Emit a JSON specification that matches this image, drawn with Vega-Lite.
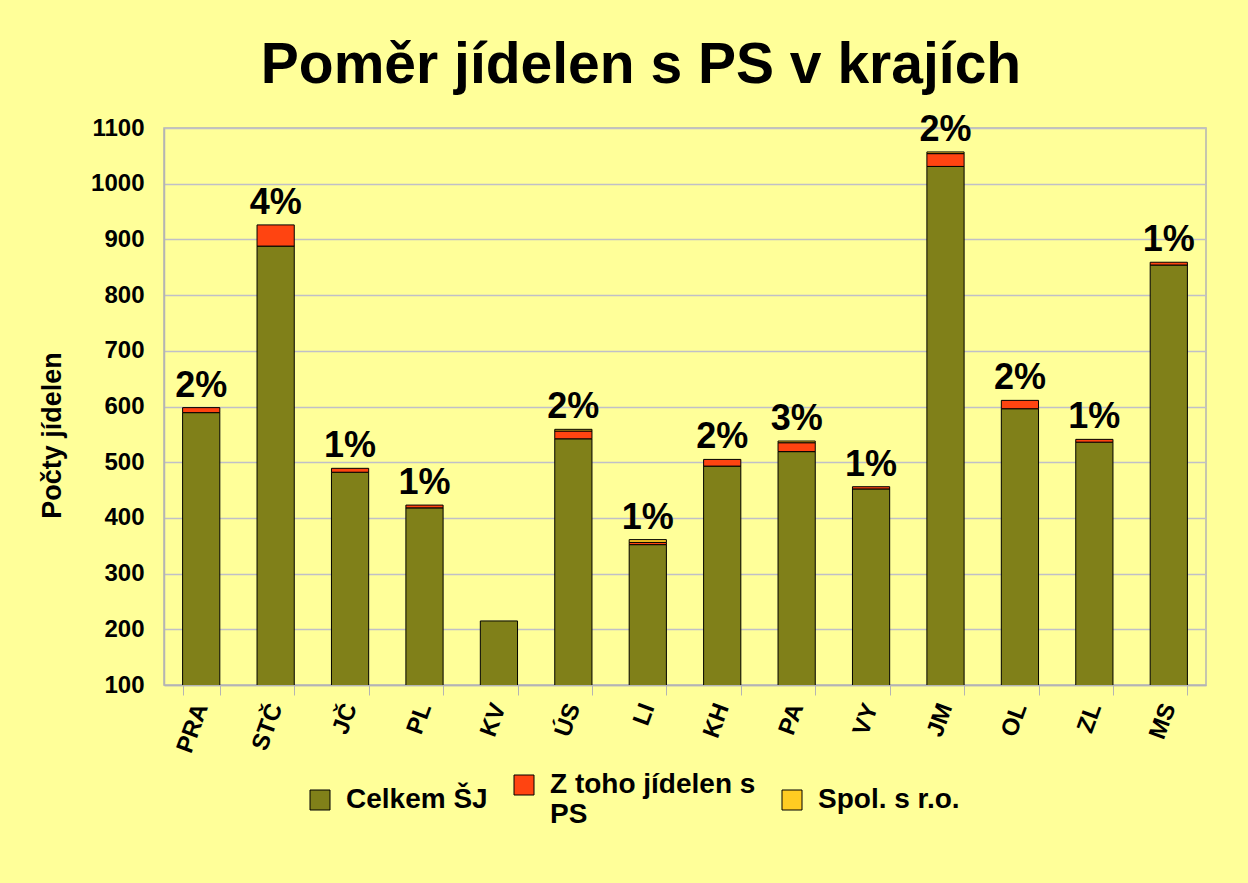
{
  "$schema": "https://vega.github.io/schema/vega-lite/v6.json",
  "autosize": "none",
  "width": 1042,
  "height": 557,
  "padding": {"left": 164, "top": 128, "right": 42, "bottom": 198},
  "background": "#FFFF99",
  "title": {
    "text": "Poměr jídelen s PS v krajích",
    "font": "Liberation Sans",
    "fontSize": 57,
    "fontWeight": "bold",
    "color": "#000000",
    "anchor": "middle",
    "baseline": "alphabetic",
    "dx": -44,
    "dy": 50,
    "offset": 22
  },
  "config": {
    "view": {"stroke": "#B4B4B4", "strokeWidth": 1.5},
    "font": "Liberation Sans"
  },
  "datasets": {
    "bars": [
      {"kraj": "PRA", "rada": "Celkem ŠJ", "k": 1, "pocet": 589},
      {"kraj": "PRA", "rada": "Z toho jídelen s PS", "k": 2, "pocet": 9},
      {"kraj": "STČ", "rada": "Celkem ŠJ", "k": 1, "pocet": 888},
      {"kraj": "STČ", "rada": "Z toho jídelen s PS", "k": 2, "pocet": 38},
      {"kraj": "JČ", "rada": "Celkem ŠJ", "k": 1, "pocet": 482},
      {"kraj": "JČ", "rada": "Z toho jídelen s PS", "k": 2, "pocet": 7},
      {"kraj": "PL", "rada": "Celkem ŠJ", "k": 1, "pocet": 418},
      {"kraj": "PL", "rada": "Z toho jídelen s PS", "k": 2, "pocet": 5},
      {"kraj": "KV", "rada": "Celkem ŠJ", "k": 1, "pocet": 215},
      {"kraj": "ÚS", "rada": "Celkem ŠJ", "k": 1, "pocet": 542},
      {"kraj": "ÚS", "rada": "Z toho jídelen s PS", "k": 2, "pocet": 14},
      {"kraj": "ÚS", "rada": "Spol. s r.o.", "k": 3, "pocet": 3},
      {"kraj": "LI", "rada": "Celkem ŠJ", "k": 1, "pocet": 352},
      {"kraj": "LI", "rada": "Z toho jídelen s PS", "k": 2, "pocet": 4},
      {"kraj": "LI", "rada": "Spol. s r.o.", "k": 3, "pocet": 5},
      {"kraj": "KH", "rada": "Celkem ŠJ", "k": 1, "pocet": 493},
      {"kraj": "KH", "rada": "Z toho jídelen s PS", "k": 2, "pocet": 12},
      {"kraj": "PA", "rada": "Celkem ŠJ", "k": 1, "pocet": 519},
      {"kraj": "PA", "rada": "Z toho jídelen s PS", "k": 2, "pocet": 16},
      {"kraj": "PA", "rada": "Spol. s r.o.", "k": 3, "pocet": 3},
      {"kraj": "VY", "rada": "Celkem ŠJ", "k": 1, "pocet": 452},
      {"kraj": "VY", "rada": "Z toho jídelen s PS", "k": 2, "pocet": 4},
      {"kraj": "JM", "rada": "Celkem ŠJ", "k": 1, "pocet": 1031},
      {"kraj": "JM", "rada": "Z toho jídelen s PS", "k": 2, "pocet": 23},
      {"kraj": "JM", "rada": "Spol. s r.o.", "k": 3, "pocet": 3},
      {"kraj": "OL", "rada": "Celkem ŠJ", "k": 1, "pocet": 596},
      {"kraj": "OL", "rada": "Z toho jídelen s PS", "k": 2, "pocet": 15},
      {"kraj": "ZL", "rada": "Celkem ŠJ", "k": 1, "pocet": 536},
      {"kraj": "ZL", "rada": "Z toho jídelen s PS", "k": 2, "pocet": 5},
      {"kraj": "MS", "rada": "Celkem ŠJ", "k": 1, "pocet": 854},
      {"kraj": "MS", "rada": "Z toho jídelen s PS", "k": 2, "pocet": 5}
    ],
    "labels": [
      {"kraj": "PRA", "podil": "2%"},
      {"kraj": "STČ", "podil": "4%"},
      {"kraj": "JČ", "podil": "1%"},
      {"kraj": "PL", "podil": "1%"},
      {"kraj": "KV", "podil": ""},
      {"kraj": "ÚS", "podil": "2%"},
      {"kraj": "LI", "podil": "1%"},
      {"kraj": "KH", "podil": "2%"},
      {"kraj": "PA", "podil": "3%"},
      {"kraj": "VY", "podil": "1%"},
      {"kraj": "JM", "podil": "2%"},
      {"kraj": "OL", "podil": "2%"},
      {"kraj": "ZL", "podil": "1%"},
      {"kraj": "MS", "podil": "1%"}
    ]
  },
  "data": {"name": "bars"},
  "encoding": {
    "x": {
      "field": "kraj",
      "type": "nominal",
      "sort": ["PRA", "STČ", "JČ", "PL", "KV", "ÚS", "LI", "KH", "PA", "VY", "JM", "OL", "ZL", "MS"],
      "scale": {"paddingInner": 0.5, "paddingOuter": 0.25},
      "axis": {
        "title": null,
        "labelAngle": -70,
        "labelFontSize": 24,
        "labelFontWeight": "bold",
        "labelColor": "#000000",
        "labelPadding": 9,
        "tickBand": "extent",
        "tickSize": 10,
        "tickColor": "#B4B4B4",
        "domainColor": "#B4B4B4",
        "domainWidth": 1.5
      }
    }
  },
  "layer": [
    {
      "mark": {"type": "bar", "clip": true, "stroke": "#000000", "strokeWidth": 1},
      "encoding": {
        "y": {
          "field": "pocet",
          "type": "quantitative",
          "aggregate": "sum",
          "stack": "zero",
          "scale": {"domain": [100, 1100], "nice": false, "zero": false},
          "axis": {
            "title": "Počty jídelen",
            "titleFontSize": 27,
            "titleFontWeight": "bold",
            "titleColor": "#000000",
            "titleX": -112,
            "titleY": 307,
            "titleAngle": -90,
            "titleBaseline": "middle",
            "values": [100, 200, 300, 400, 500, 600, 700, 800, 900, 1000, 1100],
            "format": "d",
            "labelFontSize": 24,
            "labelFontWeight": "bold",
            "labelColor": "#000000",
            "labelPadding": 20,
            "ticks": false,
            "grid": true,
            "gridColor": "#C0C0C8",
            "gridWidth": 1.5,
            "domainColor": "#B4B4B4",
            "domainWidth": 1.5
          }
        },
        "color": {
          "field": "rada",
          "type": "nominal",
          "scale": {
            "domain": ["Celkem ŠJ", "Z toho jídelen s PS", "Spol. s r.o."],
            "range": ["#808019", "#FF4411", "#FFCC22"]
          },
          "legend": {
            "title": null,
            "orient": "none",
            "legendX": 142,
            "legendY": 643,
            "direction": "horizontal",
            "symbolType": "square",
            "symbolSize": 400,
            "symbolStrokeColor": "#000000",
            "symbolStrokeWidth": 1,
            "labelFontSize": 28,
            "labelFontWeight": "bold",
            "labelColor": "#000000",
            "labelLimit": 400,
            "labelBaseline": "middle",
            "labelOffset": 12,
            "columnPadding": 22,
            "labelExpr": "datum.label == 'Z toho jídelen s PS' ? ['Z toho jídelen s', 'PS'] : datum.label"
          }
        },
        "order": {"field": "k", "type": "quantitative", "sort": "ascending"}
      }
    },
    {
      "data": {"name": "bars"},
      "transform": [
        {"aggregate": [{"op": "sum", "field": "pocet", "as": "celkem"}], "groupby": ["kraj"]},
        {"lookup": "kraj", "from": {"data": {"name": "labels"}, "key": "kraj", "fields": ["podil"]}}
      ],
      "mark": {"type": "text", "fontSize": 36, "fontWeight": "bold", "baseline": "alphabetic", "dy": -11, "color": "#000000"},
      "encoding": {
        "y": {"field": "celkem", "type": "quantitative"},
        "text": {"field": "podil", "type": "nominal"}
      }
    }
  ]
}
